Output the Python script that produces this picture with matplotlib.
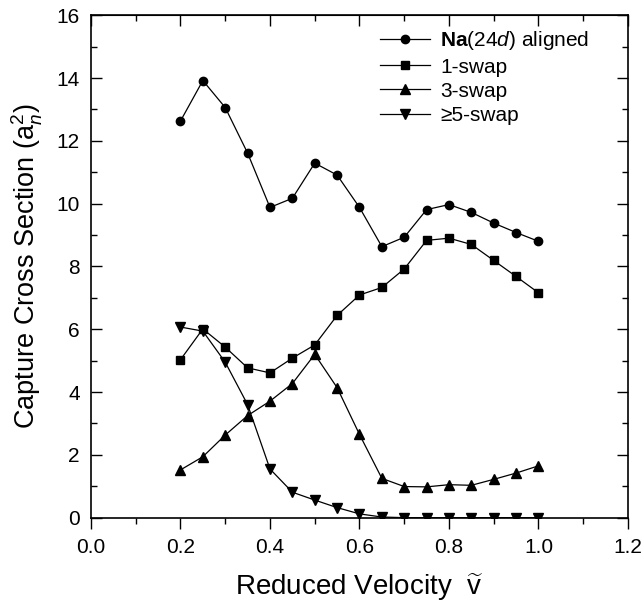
import matplotlib
matplotlib.use("Agg")
import matplotlib.pyplot as plt
from matplotlib.ticker import MultipleLocator, FormatStrFormatter

plt.rcParams['font.family'] = ['Liberation Sans', 'DejaVu Sans']
plt.rcParams['mathtext.fontset'] = 'custom'
plt.rcParams['mathtext.rm'] = 'Liberation Sans'
plt.rcParams['mathtext.it'] = 'Liberation Sans:italic'
plt.rcParams['mathtext.bf'] = 'Liberation Sans:bold'

velocity = [0.20, 0.25, 0.30, 0.35, 0.40, 0.45, 0.50, 0.55, 0.60,
            0.65, 0.70, 0.75, 0.80, 0.85, 0.90, 0.95, 1.00]
aligned = [12.63, 13.92, 13.06, 11.61, 9.88, 10.17, 11.29, 10.91, 9.88,
           8.63, 8.93, 9.81, 9.97, 9.72, 9.38, 9.08, 8.80]
swap1 = [5.03, 6.01, 5.43, 4.77, 4.61, 5.08, 5.50, 6.44, 7.09,
         7.33, 7.92, 8.83, 8.90, 8.70, 8.19, 7.68, 7.16]
swap3 = [1.52, 1.94, 2.63, 3.25, 3.71, 4.27, 5.20, 4.14, 2.65,
         1.25, 0.99, 0.98, 1.05, 1.03, 1.22, 1.42, 1.65]
swap5 = [6.07, 5.94, 4.95, 3.60, 1.55, 0.81, 0.56, 0.32, 0.12,
         0.02, 0.0, 0.0, 0.0, 0.0, 0.0, 0.0, 0.0]

labels = [r"$\mathbf{Na}$(24$\mathit{d}$) aligned", "1-swap", "3-swap", "\u22655-swap"]

fig = plt.figure(figsize=(6.42, 6.09), dpi=100)
ax = fig.add_axes([0.1417, 0.150, 0.8365, 0.825])

lw = 0.9
ax.plot(velocity, aligned, '-', color='black', lw=lw, marker='o', ms=6, label=labels[0])
ax.plot(velocity, swap1, '-', color='black', lw=lw, marker='s', ms=5.5, label=labels[1])
ax.plot(velocity, swap3, '-', color='black', lw=lw, marker='^', ms=6.5, label=labels[2])
ax.plot(velocity, swap5, '-', color='black', lw=lw, marker='v', ms=6.5, label=labels[3])

ax.set_xlim(0.0, 1.2)
ax.set_ylim(0, 16)
ax.xaxis.set_major_locator(MultipleLocator(0.2))
ax.xaxis.set_minor_locator(MultipleLocator(0.1))
ax.yaxis.set_major_locator(MultipleLocator(2))
ax.yaxis.set_minor_locator(MultipleLocator(1))
ax.xaxis.set_major_formatter(FormatStrFormatter('%.1f'))

ax.tick_params(axis='x', which='both', direction='out', top=False, labelsize=15, pad=7)
ax.tick_params(axis='y', which='both', direction='in', right=True, labelsize=15, pad=8)
ax.tick_params(which='major', length=8, width=1)
ax.tick_params(which='minor', length=4.5, width=1)

# top ticks drawn inward via secondary axis
sec = ax.secondary_xaxis('top')
sec.xaxis.set_major_locator(MultipleLocator(0.2))
sec.xaxis.set_minor_locator(MultipleLocator(0.1))
sec.tick_params(which='both', direction='in', labeltop=False)
sec.tick_params(which='major', length=8, width=1)
sec.tick_params(which='minor', length=4.5, width=1)

for s in ax.spines.values():
    s.set_linewidth(1.2)

ax.set_xlabel(r"Reduced Velocity  $\widetilde{\mathrm{v}}$", fontsize=20, labelpad=10)
ax.set_ylabel(r"Capture Cross Section (a$_{\mathit{n}}^{\mathrm{2}}$)", fontsize=19.5, labelpad=8)

leg = ax.legend(loc='upper left', bbox_to_anchor=(0.538, 0.972), frameon=False,
                fontsize=15, handlelength=2.4, handletextpad=0.5, labelspacing=0.25,
                borderpad=0, borderaxespad=0)

fig.savefig('out.png', dpi=100)
